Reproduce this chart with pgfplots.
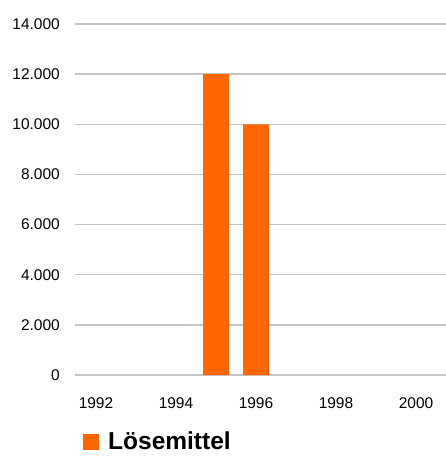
\documentclass[border=0pt]{standalone}
\usepackage{pgfplots}
\pgfplotsset{compat=1.18}
\usepackage{fontspec}
\setmainfont{Liberation Sans}
\definecolor{barorange}{HTML}{FF6600}
\definecolor{gridgray}{HTML}{C4C4C4}
\begin{document}
\begin{tikzpicture}
\useasboundingbox (-75pt,-82pt) rectangle (371pt,375pt);
\begin{axis}[
  at={(0,0)}, anchor=south west,
  scale only axis,
  width=371pt, height=351pt,
  xmin=1991.475, xmax=2000.75,
  ymin=0, ymax=14000,
  scaled y ticks=false, scaled x ticks=false,
  xtick={1992,1994,1996,1998,2000},
  xticklabels={1992,1994,1996,1998,2000},
  ytick={0,2000,4000,6000,8000,10000,12000,14000},
  yticklabels={0,2.000,4.000,6.000,8.000,10.000,12.000,14.000},
  ymajorgrids,
  major grid style={color=gridgray, line width=1.3pt},
  axis line style={draw=none},
  tick style={draw=none},
  ticklabel style={font=\fontsize{15.5}{18}\selectfont, inner sep=0pt},
  yticklabel style={anchor=east, xshift=-15pt},
  xticklabel style={anchor=north, yshift=-22pt},
  /pgf/number format/assume math mode=true,
  legend style={at={(0.0216,-0.19)}, anchor=west, draw=none, fill=none,
    inner sep=0pt, font=\fontsize{24.5}{28}\selectfont\bfseries,
    nodes={inner sep=0pt}},
  legend image code/.code={\fill[barorange] (0pt,-8pt) rectangle (16pt,8pt); \path (0pt,0pt) -- (25pt,0pt);},
]
\addplot[ybar, bar width=26pt, fill=barorange, draw=none] coordinates {(1995,12000) (1996,10000)};
\addlegendentry{Lösemittel}
\end{axis}
\end{tikzpicture}
\end{document}
